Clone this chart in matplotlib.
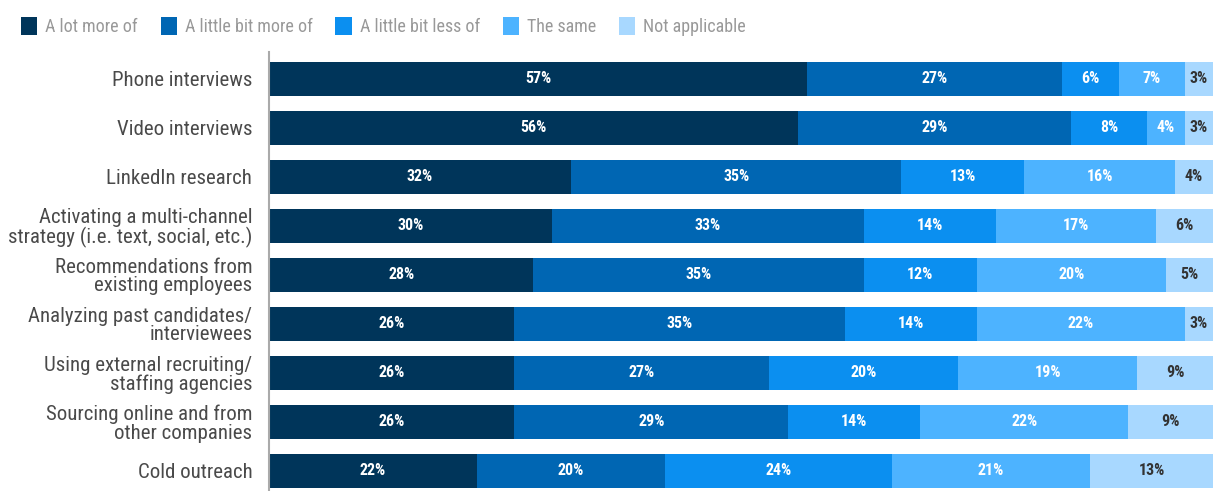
import matplotlib
matplotlib.use("Agg")
import matplotlib.pyplot as plt
from matplotlib import font_manager as fm
from matplotlib.patches import Patch

categories = [
    "Phone interviews",
    "Video interviews",
    "LinkedIn research",
    "Activating a multi-channel\nstrategy (i.e. text, social, etc.)",
    "Recommendations from\nexisting employees",
    "Analyzing past candidates/\ninterviewees",
    "Using external recruiting/\nstaffing agencies",
    "Sourcing online and from\nother companies",
    "Cold outreach",
]
series_names = ["A lot more of", "A little bit more of", "A little bit less of",
                "The same", "Not applicable"]
a_lot_more = [57, 56, 32, 30, 28, 26, 26, 26, 22]
little_more = [27, 29, 35, 33, 35, 35, 27, 29, 20]
little_less = [6, 8, 13, 14, 12, 14, 20, 14, 24]
the_same = [7, 4, 16, 17, 20, 22, 19, 22, 21]
not_applicable = [3, 3, 4, 6, 5, 3, 9, 9, 13]
series = [a_lot_more, little_more, little_less, the_same, not_applicable]

colors = ["#00355a", "#0066b3", "#0b8ff0", "#4db3ff", "#a8d8ff"]
label_colors = ["white", "white", "white", "white", "#333333"]

family = "DejaVu Sans"
for f in ["Roboto Condensed", "Liberation Sans Narrow", "Roboto", "Open Sans"]:
    try:
        fm.findfont(fm.FontProperties(family=f), fallback_to_default=False)
        family = f
        break
    except Exception:
        pass
plt.rcParams["font.family"] = [family, "DejaVu Sans"]

W, H = 1213, 491
fig = plt.figure(figsize=(W / 100, H / 100), dpi=100)
ax = fig.add_axes([269 / W, 0, 1 - 269 / W, (H - 52) / H])

ypos = list(range(len(categories)))
left = [0] * len(categories)
for vals, col, lc in zip(series, colors, label_colors):
    ax.barh(ypos, vals, left=left, height=0.71, color=col, edgecolor="none")
    for i, v in enumerate(vals):
        cx = left[i] + v / 2
        if left[i] + v > 100:
            cx = (left[i] + 100) / 2
        ax.text(cx, i, f"{v}%", ha="center", va="center", color=lc,
                fontsize=11.5, fontweight="bold")
    left = [l + v for l, v in zip(left, vals)]

ax.set_xlim(0, 100)
ax.set_ylim(8.41, -0.55)
ax.set_yticks(ypos)
ax.set_yticklabels(categories, fontsize=15, color="#4a4a4a", linespacing=0.97)
ax.tick_params(axis="y", length=0, pad=12)
ax.set_xticks([])
for s in ["top", "right", "bottom"]:
    ax.spines[s].set_visible(False)
ax.spines["left"].set_color("#aaaaaa")
ax.spines["left"].set_linewidth(1.5)

handles = [Patch(facecolor=c, edgecolor="none") for c in colors]
leg = fig.legend(handles, series_names, loc="upper left", bbox_to_anchor=(0.004, 0.999),
                 ncol=5, frameon=False, fontsize=13, handlelength=0.9, handleheight=1.2,
                 handletextpad=0.45, columnspacing=1.25, labelcolor="#999999")

fig.savefig("out.png", dpi=100)
